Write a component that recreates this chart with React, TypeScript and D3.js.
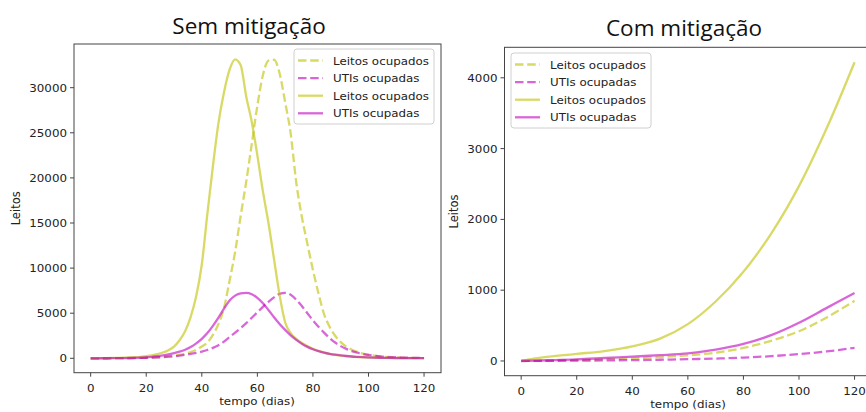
import React from "react";
import * as d3 from "d3";

// dias (sem mitigação), passo de 2 dias
const daysSem = [
  0, 2, 4, 6, 8, 10, 12, 14, 16, 18, 20, 22, 24, 26, 28, 30, 32, 34, 36, 38,
  40, 42, 44, 46, 48, 50, 52, 54, 56, 58, 60, 62, 64, 66, 68, 70, 72, 74, 76,
  78, 80, 82, 84, 86, 88, 90, 92, 94, 96, 98, 100, 102, 104, 106, 108, 110,
  112, 114, 116, 118, 120,
];

// linha cheia amarela
const leitosSem = [
  10, 15, 20, 28, 38, 50, 68, 90, 125, 170, 240, 330, 460, 640, 900, 1300,
  2000, 3000, 4600, 6900, 10400, 16000, 21300, 26100, 29500, 32000, 33150,
  32500, 29000, 26200, 22500, 18500, 15000, 11000, 7000, 4000, 2800, 2150,
  1700, 1350, 1050, 820, 640, 500, 390, 300, 230, 180, 140, 110, 85, 66, 52,
  41, 33, 27, 22, 18, 15, 12, 10,
];
// linha cheia magenta
const utisSem = [
  0, 2, 5, 8, 12, 17, 25, 35, 50, 75, 110, 160, 230, 320, 430, 570, 730, 950,
  1250, 1650, 2150, 2800, 3600, 4500, 5500, 6400, 6950, 7200, 7250, 7100,
  6700, 6100, 5350, 4550, 3800, 3150, 2550, 2050, 1620, 1270, 1000, 790, 630,
  500, 400, 320, 255, 200, 160, 125, 100, 80, 63, 50, 40, 32, 26, 21, 17, 14,
  11,
];
// tracejada amarela
const leitosSemB = [
  0, 2, 4, 7, 10, 14, 20, 28, 38, 50, 65, 85, 115, 155, 210, 280, 380, 510,
  700, 950, 1300, 1750, 2600, 3800, 5600, 8600, 11800, 15800, 19600, 23800,
  28000, 31400, 33000, 33100, 31600, 28400, 24900, 19500, 15700, 12700, 9800,
  7200, 4900, 3500, 2500, 1800, 1300, 950, 700, 520, 390, 290, 220, 165, 125,
  95, 72, 55, 42, 33, 25,
];
// tracejada magenta
const utisSemB = [
  0, 2, 4, 7, 10, 14, 20, 27, 36, 48, 62, 80, 105, 135, 175, 225, 290, 380,
  480, 600, 740, 920, 1150, 1450, 1850, 2350, 2850, 3350, 3900, 4500, 5100,
  5700, 6250, 6750, 7150, 7250, 7050, 6500, 5800, 5000, 4200, 3500, 2850,
  2250, 1750, 1350, 1050, 800, 620, 480, 370, 290, 225, 175, 135, 105, 82, 64,
  50, 40, 31,
];

// com mitigação
const daysCom = [0, 5, 10, 20, 30, 40, 50, 60, 70, 80, 90, 100, 110, 120];
const leitosCom = [0, 35, 60, 100, 140, 205, 315, 520, 840, 1260, 1800, 2470, 3290, 4220];
const utisCom = [0, 5, 10, 22, 42, 62, 82, 108, 160, 240, 365, 540, 750, 960];
const leitosComB = [0, 2, 5, 14, 24, 36, 55, 80, 118, 185, 285, 420, 615, 850];
const utisComB = [0, 1, 2, 5, 8, 12, 17, 25, 34, 48, 68, 97, 135, 185];

const xTicks = [0, 20, 40, 60, 80, 100, 120];
const yTicksSem = [0, 5000, 10000, 15000, 20000, 25000, 30000];
const yTicksCom = [0, 1000, 2000, 3000, 4000];
const legendLabels = ["Leitos ocupados", "UTIs ocupadas", "Leitos ocupados", "UTIs ocupadas"];

const YEL = "#bfbf00";
const MAG = "#bf00bf";
const ALPHA = 0.6;
const SX = 1.12;
const FONT = "DejaVu Sans";
const DASH = "8.5 3.7";

const Txt = ({ x, y, anchor = "start", size = 10.6, children }) => (
  <text
    transform={`translate(${x},${y}) scale(${SX},1)`}
    textAnchor={anchor}
    fontFamily={FONT}
    fontSize={size}
    fill="#222"
  >
    {children}
  </text>
);

const Panel = ({ days, series, yTicks, xRange, yRange, yDomain, title, titleX, titleY, legend, ylabelX, xlabelX, curve }) => {
  const x = d3.scaleLinear().domain([-6, 126.1]).range(xRange);
  const y = d3.scaleLinear().domain(yDomain).range(yRange);
  const line = d3
    .line()
    .x((d) => x(d[0]))
    .y((d) => y(d[1]))
    .curve(curve);

  const [x0, x1] = xRange;
  const [yb, yt] = yRange;
  const styles = [
    { c: YEL, dash: DASH },
    { c: MAG, dash: DASH },
    { c: YEL, dash: null },
    { c: MAG, dash: null },
  ];

  return (
    <g>
      <text x={titleX} y={titleY} textAnchor="middle" fontFamily="Open Sans" fontSize={22.5} fill="#111">
        {title}
      </text>
      {series.map((s, i) => (
        <path
          key={i}
          d={line(days.map((d, j) => [d, s[j]]))}
          fill="none"
          stroke={styles[i].c}
          strokeOpacity={ALPHA}
          strokeWidth={2.3}
          strokeDasharray={styles[i].dash || undefined}
        />
      ))}
      <rect x={x0} y={yt} width={x1 - x0} height={yb - yt} fill="none" stroke="#444" strokeWidth={1} />
      {xTicks.map((t) => (
        <g key={t}>
          <line x1={x(t)} x2={x(t)} y1={yb} y2={yb + 4} stroke="#444" />
          <Txt x={x(t)} y={yb + 19} anchor="middle">{t}</Txt>
        </g>
      ))}
      {yTicks.map((t) => (
        <g key={t}>
          <line x1={x0 - 4} x2={x0} y1={y(t)} y2={y(t)} stroke="#444" />
          <Txt x={x0 - 7} y={y(t) + 4} anchor="end">{t}</Txt>
        </g>
      ))}
      <Txt x={xlabelX} y={yb + 32} anchor="middle">
        tempo (dias)
      </Txt>
      <text
        transform={`translate(${ylabelX},${(yb + yt) / 2}) rotate(-90)`}
        textAnchor="middle"
        fontFamily={FONT}
        fontSize={11.5}
        fill="#222"
      >
        Leitos
      </text>
      <g>
        <rect
          x={legend.x}
          y={legend.y}
          width={140}
          height={75}
          rx={3}
          fill="#fff"
          fillOpacity={0.8}
          stroke="#d0d0d0"
        />
        {legendLabels.map((lab, i) => {
          const ly = legend.y + 11.5 + i * 17.6;
          return (
            <g key={i}>
              <line
                x1={legend.x + 4}
                x2={legend.x + 29}
                y1={ly}
                y2={ly}
                stroke={styles[i].c}
                strokeOpacity={ALPHA}
                strokeWidth={2.3}
                strokeDasharray={styles[i].dash || undefined}
              />
              <Txt x={legend.x + 39} y={ly + 4}>{lab}</Txt>
            </g>
          );
        })}
      </g>
    </g>
  );
};

export default function App() {
  return (
    <div style={{ position: "absolute", left: 0, top: 0 }}>
      <svg width={866} height={412} style={{ display: "block", background: "#fff" }}>
        <Panel
          days={daysSem}
          series={[leitosSemB, utisSemB, leitosSem, utisSem]}
          yTicks={yTicksSem}
          xRange={[74, 441]}
          yRange={[372.7, 44]}
          yDomain={[-1596, 34845]}
          title="Sem mitigação"
          titleX={249}
          titleY={34}
          legend={{ x: 294, y: 49 }}
          ylabelX={20}
          xlabelX={257}
          curve={d3.curveMonotoneX}
        />
        <Panel
          days={daysCom}
          series={[leitosComB, utisComB, leitosCom, utisCom]}
          yTicks={yTicksCom}
          xRange={[504.5, 871.5]}
          yRange={[375.7, 47.3]}
          yDomain={[-208, 4431]}
          title="Com mitigação"
          titleX={684}
          titleY={36}
          legend={{ x: 511, y: 53 }}
          ylabelX={458}
          xlabelX={688}
          curve={d3.curveCatmullRom}
        />
      </svg>
    </div>
  );
}
